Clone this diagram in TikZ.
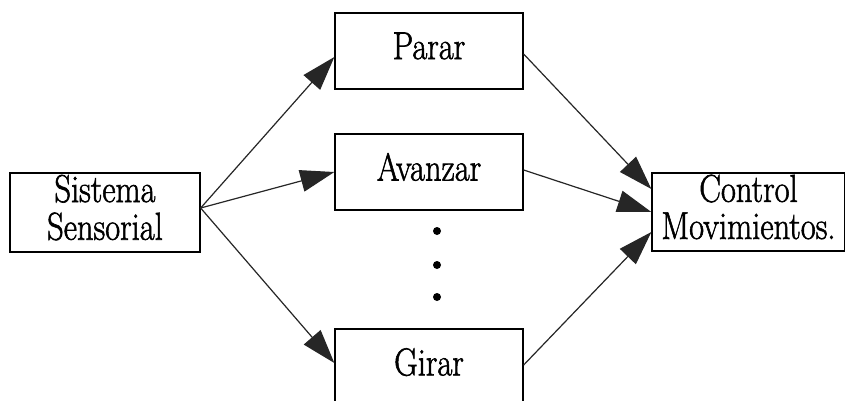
\documentclass[tikz,border=0pt]{standalone}
\usepackage{fontspec}
\newfontfamily\nodefont{Latin Modern Roman}[FakeBold=1.6]
\usetikzlibrary{arrows.meta}
\newcommand{\vtext}[1]{\scalebox{1}[1.2]{\def\arraystretch{1}\begin{tabular}{@{}c@{}}#1\end{tabular}}}
\begin{document}
\begin{tikzpicture}[x=1pt,y=1pt,
  box/.style={draw=black, line width=1.3pt, inner sep=0pt, minimum width=188pt, minimum height=76pt,
    font=\nodefont\fontsize{32.5}{29}\selectfont},
  arr/.style={draw=black!85, line width=1.2pt, -{Triangle[length=34pt,width=22pt]}},
  dotn/.style={circle, fill=black, inner sep=0pt, minimum size=8pt}]
\useasboundingbox (0,0) rectangle (845,-400);
\clip (0,0) rectangle (845,-400);
\fill[white] (0,0) rectangle (845,-400);
\node[box, minimum width=190pt, minimum height=79pt] (ss) at (105,-212.5) {\vtext{Sistema\\Sensorial}};
\node[box] (parar) at (429,-51) {\vtext{Parar}};
\node[box] (avanzar) at (429,-172) {\vtext{Avanzar}};
\node[box] (girar) at (429,-367) {\vtext{Girar}};
\node[box, minimum width=193pt, minimum height=78pt] (control) at (748.5,-212) {\vtext{Control\\Movimientos.}};
\node[dotn] (d1) at (437,-231) {};
\node[dotn] (d2) at (437,-265) {};
\node[dotn] (d3) at (437,-297) {};
\coordinate (src) at ([yshift=4.5pt]ss.east);
\draw[arr] (src) -- ([yshift=-6pt]parar.west);
\draw[arr] (src) -- (avanzar.west);
\draw[arr] (src) -- ([yshift=4pt]girar.west);
\draw[arr] ([yshift=-3pt]parar.east) -- ([yshift=23pt]control.west);
\draw[arr] ([yshift=2pt]avanzar.east) -- (control.west);
\draw[arr] ([yshift=2pt]girar.east) -- ([yshift=-20pt]control.west);
\end{tikzpicture}
\end{document}
